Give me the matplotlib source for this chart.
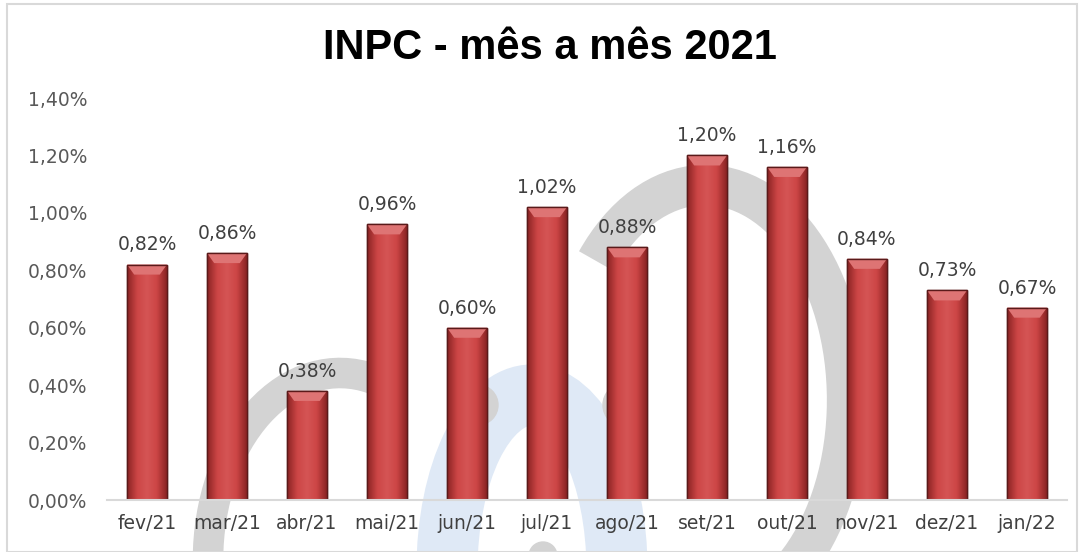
import matplotlib
matplotlib.use("Agg")
import matplotlib.pyplot as plt
import numpy as np
from matplotlib.patches import Rectangle, Polygon, Arc, Circle
from matplotlib.colors import LinearSegmentedColormap

categories = ["fev/21", "mar/21", "abr/21", "mai/21", "jun/21", "jul/21",
              "ago/21", "set/21", "out/21", "nov/21", "dez/21", "jan/22"]
values = [0.82, 0.86, 0.38, 0.96, 0.60, 1.02, 0.88, 1.20, 1.16, 0.84, 0.73, 0.67]
yticks = [0.0, 0.2, 0.4, 0.6, 0.8, 1.0, 1.2, 1.4]
title = "INPC - mês a mês 2021"

FONT = "DejaVu Sans"
FS = 13.5

def pt(v):
    return f"{v:.2f}".replace(".", ",") + "%"

W, H = 1084, 552
fig = plt.figure(figsize=(W / 100, H / 100), dpi=100)
fig.patch.set_facecolor("white")

# background watermark (decorative logo), pixel coordinates with y measured from top
bg = fig.add_axes([0, 0, 1, 1], zorder=-1)
bg.set_xlim(0, W); bg.set_ylim(0, H); bg.axis("off")
def P(xp, yp):
    return (xp, H - yp)
gray = "#d3d3d3"
blue = "#dfe9f6"
bg.add_patch(Arc(P(532, 570), 2 * 85, 2 * 175, theta1=0, theta2=180, color=blue, lw=44))
bg.add_patch(Arc(P(340, 560), 2 * 132, 2 * 187, theta1=80, theta2=180, color=gray, lw=22))
bg.add_patch(Arc(P(705, 400), 2 * 142, 2 * 215, theta1=-62, theta2=128, color=gray, lw=29))
bg.add_patch(Circle(P(625, 405), 22, color=gray))
bg.add_patch(Circle(P(478, 405), 20, color=gray))
bg.add_patch(Circle(P(543, 556), 14, color=gray))
bg.add_patch(Rectangle((7, 0), W - 14, H - 4, fill=False, edgecolor="#d9d9d9", linewidth=1.5))

ax = fig.add_axes([107 / W, 52 / H, (1067 - 107) / W, (500 - 98) / H])
x = np.arange(len(categories))
w = 0.5
bars = ax.bar(x, values, width=w, color="#cc4444", edgecolor="#5a1a1a", linewidth=1.0, zorder=2)

cmap = LinearSegmentedColormap.from_list("r", ["#8a2424", "#cc4545", "#d55555", "#cc4545", "#8a2424"])
for b, v in zip(bars, values):
    x0 = b.get_x(); x1 = x0 + b.get_width()
    im = ax.imshow(np.linspace(0, 1, 64)[None, :], aspect="auto", cmap=cmap,
                   extent=(x0, x1, 0, v), zorder=2.1, interpolation="bicubic")
    im.set_clip_path(b)
    ax.add_patch(Polygon([(x0, v), (x1, v), (x1 - 0.09, v - 0.035), (x0 + 0.09, v - 0.035)],
                         closed=True, facecolor="#de7474", edgecolor="none", zorder=2.2))
    ax.add_patch(Rectangle((x0, 0), b.get_width(), v, fill=False, edgecolor="#5a1a1a",
                           linewidth=1.0, zorder=2.3))
    ax.text(b.get_x() + b.get_width() / 2, v + 0.035, pt(v), ha="center", va="bottom",
            fontsize=FS, color="#404040", family=FONT, zorder=3)

ax.set_xlim(-0.5, len(categories) - 0.5)
ax.set_ylim(0, 1.4)
ax.set_yticks(yticks)
ax.set_yticklabels([pt(v) for v in yticks], fontsize=FS, color="#595959", family=FONT)
ax.set_xticks(x)
ax.set_xticklabels(categories, fontsize=FS, color="#404040", family=FONT)
ax.tick_params(axis="both", length=0)
ax.tick_params(axis="y", pad=14)
ax.tick_params(axis="x", pad=10)
for s in ["top", "right", "left"]:
    ax.spines[s].set_visible(False)
ax.spines["bottom"].set_color("#d9d9d9")
ax.spines["bottom"].set_linewidth(1.5)
ax.set_facecolor("none")

fig.text(550 / W, 1 - 48 / H, title, ha="center", va="center", fontsize=30,
         fontweight="bold", family="Liberation Sans", color="black")

fig.savefig("out.png", dpi=100)
